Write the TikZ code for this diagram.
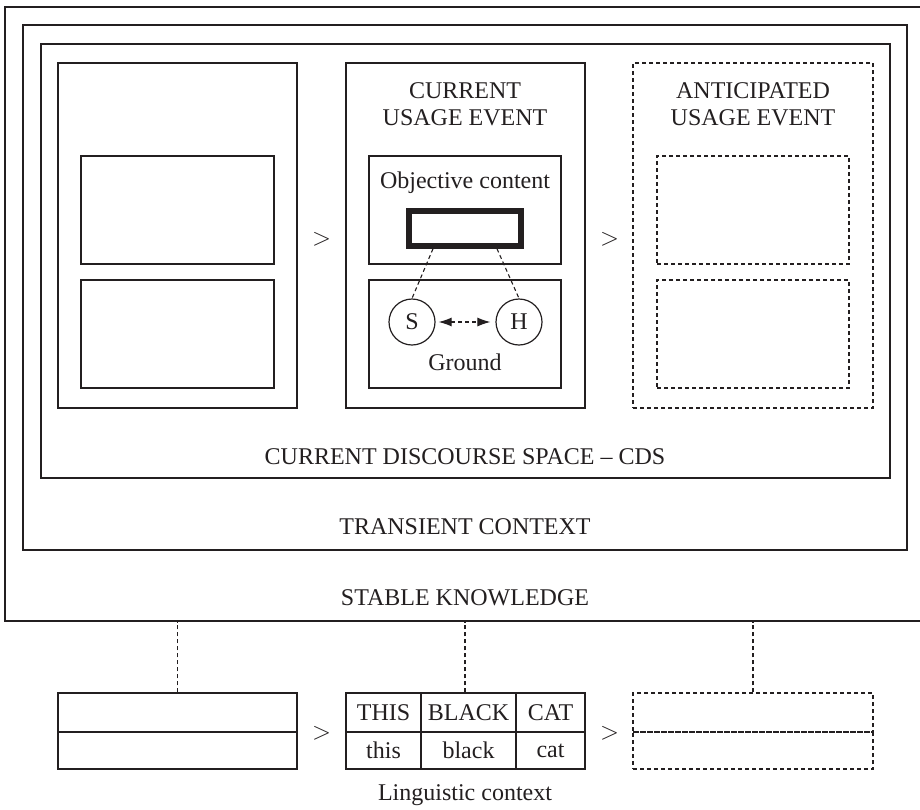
\documentclass[tikz,border=0pt]{standalone}
\usepackage{fontspec}
\setmainfont{Liberation Serif}
\usetikzlibrary{arrows.meta}
\definecolor{ink}{RGB}{35,31,32}
\tikzset{
  box/.style={draw=ink, line width=1.3pt, inner sep=0pt, minimum width=#1},
  box/.default=193pt,
  dbox/.style={box=#1, dash pattern=on 4pt off 3pt},
  dbox/.default=193pt,
  lbl/.style={text=ink, inner sep=0pt, font=\fontsize{24}{27}\selectfont, align=center},
  conn/.style={draw=ink, line width=1.1pt, dash pattern=on 4pt off 3pt},
  circ/.style={circle, draw=ink, line width=1.2pt, minimum size=46pt, inner sep=0pt, text=ink, font=\fontsize{24}{27}\selectfont}
}
\begin{document}
\begin{tikzpicture}[x=1pt,y=-1pt]
\useasboundingbox (0,0) rectangle (920,809);
\clip (0,0) rectangle (920,809);
% nested frames
\node[box=930pt, minimum height=614pt] (stable) at (470,314) {};
\node[box=884pt, minimum height=525pt] (transient) at (465,287.5) {};
\node[box=849pt, minimum height=434pt] (cds) at (465.5,261) {};
\node[lbl] (stablelbl) at (465,598) {STABLE KNOWLEDGE};
\node[lbl] (transientlbl) at (465,527) {TRANSIENT CONTEXT};
\node[lbl] (cdslbl) at (465,457) {CURRENT DISCOURSE SPACE – CDS};
% usage events
\node[box=239pt, minimum height=345pt] (ev1) at (177.5,235.5) {};
\node[box=239pt, minimum height=345pt] (ev2) at (465.5,235.5) {};
\node[dbox=240pt, minimum height=345pt] (ev3) at (753,235.5) {};
\node[lbl] (ev2lbl) at (465,104) {CURRENT\\USAGE EVENT};
\node[lbl] (ev3lbl) at (753,104) {ANTICIPATED\\USAGE EVENT};
\node[lbl] (gt1) at (321.5,239) {$>$};
\node[lbl] (gt2) at (609.5,239) {$>$};
% inner boxes
\node[box, minimum height=108pt] (l1) at (177.5,210) {};
\node[box, minimum height=108pt] (l2) at (177.5,334) {};
\node[box=192pt, minimum height=108pt] (oc) at (465,210) {};
\node[box=192pt, minimum height=108pt] (gr) at (465,334) {};
\node[dbox=192pt, minimum height=108pt] (r1) at (753,210) {};
\node[dbox=192pt, minimum height=108pt] (r2) at (753,334) {};
\node[lbl] (oclbl) at (465,183) {Objective content};
\node[lbl] (grlbl) at (465,362) {Ground};
\node[draw=ink, line width=5.5pt, inner sep=0pt, minimum width=112pt, minimum height=35pt] (obj) at (465,228.5) {};
\node[circ] (S) at (412,322) {S};
\node[circ] (H) at (519,322) {H};
\draw[conn] ([xshift=-32pt]obj.south) -- (S.north);
\draw[conn] ([xshift=32pt]obj.south) -- (H.north);
\draw[conn, {Latex[length=13pt,width=9pt]}-{Latex[length=13pt,width=9pt]}, shorten <=3pt, shorten >=5pt] (S.east) -- (H.west);
% linguistic context
\node[box=239pt, minimum height=39pt] (lb1) at (177.5,712.5) {};
\node[box=239pt, minimum height=37pt] (lb2) at (177.5,750.5) {};
\node[box=75pt, minimum height=39pt, lbl] (t1) at (383.5,712.5) {THIS};
\node[box=95pt, minimum height=39pt, lbl] (t2) at (468.5,712.5) {BLACK};
\node[box=69pt, minimum height=39pt, lbl] (t3) at (550.5,712.5) {CAT};
\node[box=75pt, minimum height=37pt, lbl] (b1) at (383.5,750.5) {this};
\node[box=95pt, minimum height=37pt, lbl] (b2) at (468.5,750.5) {black};
\node[box=69pt, minimum height=37pt, lbl] (b3) at (550.5,750.5) {cat};
\node[dbox=240pt, minimum height=39pt] (rb1) at (753,712.5) {};
\node[dbox=240pt, minimum height=37pt] (rb2) at (753,750.5) {};
\node[lbl] (gt3) at (321.5,733) {$>$};
\node[lbl] (gt4) at (609.5,733) {$>$};
\node[lbl] (linglbl) at (465,795) {Linguistic context};
\draw[conn] (lb1.north) -- (lb1.north |- stable.south);
\draw[conn] (t2.north -| stablelbl) -- (stablelbl |- stable.south);
\draw[conn] (rb1.north) -- (rb1.north |- stable.south);
\end{tikzpicture}
\end{document}
